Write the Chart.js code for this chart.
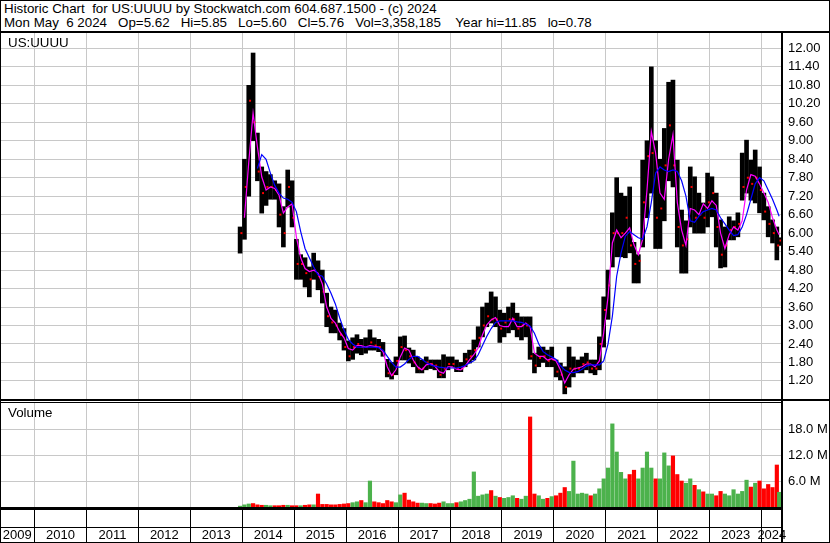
<!DOCTYPE html>
<html><head><meta charset="utf-8">
<script src="https://cdn.jsdelivr.net/npm/chart.js@4.4.1/dist/chart.umd.min.js"></script>
<style>
html,body{margin:0;padding:0;background:#fff;}
#wrap{position:relative;width:830px;height:543px;overflow:hidden;font-family:"Liberation Sans",Arial,sans-serif;background:#fff;}
.ln{position:absolute;background:#000;}
.txt{position:absolute;font-size:13.33px;white-space:pre;color:#000;line-height:15px;}
canvas{position:absolute;left:0;}
</style></head><body>
<div id="wrap">
<canvas id="cp" width="830" height="367" style="top:33px"></canvas>
<canvas id="cv" width="830" height="105" style="top:402px"></canvas>
<canvas id="cd" width="830" height="33" style="top:510px"></canvas>
<div class="txt" style="left:4px;top:1px">Historic Chart  for US:UUUU by Stockwatch.com 604.687.1500 - (c) 2024</div>
<div class="txt" style="left:4px;top:15px">Mon May  6 2024   Op=5.62   Hi=5.85   Lo=5.60   Cl=5.76   Vol=3,358,185    Year hi=11.85   lo=0.78</div>
<div class="txt" style="left:8px;top:35px">US:UUUU</div>
<div class="txt" style="left:8px;top:405px">Volume</div>
<div class="ln" style="left:0;top:0;width:830px;height:1px"></div>
<div class="ln" style="left:0;top:542px;width:830px;height:1px"></div>
<div class="ln" style="left:0;top:0;width:1px;height:543px"></div>
<div class="ln" style="left:829px;top:0;width:1px;height:543px"></div>
<div class="ln" style="left:0;top:31px;width:830px;height:2px"></div>
<div class="ln" style="left:781px;top:33px;width:2px;height:510px"></div>
<div class="ln" style="left:0;top:399px;width:830px;height:2px"></div>
<div class="ln" style="left:0;top:402px;width:782px;height:1px"></div>
<div class="ln" style="left:0;top:507px;width:782px;height:3px"></div>
</div>
<script>
// ---- data (monthly) ----
const startYear = 2013, startMonth = 12;   // first month of data
const lastDate = 2024.346;                 // Mon May 6 2024
const highs = [6.2,
 8.4,10.8,11.85,9.25,8.15,8.0,7.9,7.7,7.6,6.86,8.05,7.7,
 5.8,5.3,5.2,4.9,5.35,5.1,4.8,4.05,3.6,3.5,3.08,2.9,
 2.5,2.6,2.7,2.55,2.6,2.86,2.6,2.55,2.45,1.9,1.8,1.98,
 2.63,2.66,2.27,2.2,1.98,1.88,1.98,1.88,1.88,1.88,2.05,1.98,
 1.98,1.88,1.8,2.1,2.2,2.53,2.96,3.6,3.73,4.09,3.93,3.5,
 3.4,3.6,3.73,3.4,3.28,3.28,3.28,2.1,2.3,2.3,2.2,2.3,
 1.88,1.78,1.66,2.3,1.98,1.88,1.98,2.1,1.88,1.88,2.63,3.93,
 4.8,6.66,7.8,7.3,7.2,7.5,5.7,5.3,8.37,9.0,11.4,9.0,
 8.4,9.4,10.9,10.97,8.37,6.75,6.4,8.15,7.83,7.3,6.98,7.95,
 7.83,7.3,6.43,6.2,6.53,6.4,6.66,8.6,9.02,8.37,8.7,8.15,
 7.3,6.86,6.43,6.2,5.85];
const lows = [5.35,
 5.8,7.2,9.0,7.7,6.65,6.9,7.1,7.1,6.2,5.55,6.85,6.2,
 4.5,4.5,4.25,3.93,4.5,4.16,3.73,2.96,2.76,2.76,2.53,2.2,
 1.85,1.9,2.1,2.05,2.1,2.2,2.2,2.15,2.0,1.33,1.26,1.4,
 1.88,1.88,1.78,1.66,1.46,1.46,1.56,1.6,1.56,1.3,1.3,1.56,
 1.66,1.5,1.5,1.66,1.78,1.88,2.3,2.63,2.96,3.08,2.96,2.45,
 2.63,2.76,2.86,2.63,2.53,2.63,1.9,1.46,1.66,1.8,1.66,1.66,
 1.33,1.23,0.78,1.0,1.33,1.46,1.46,1.56,1.46,1.4,1.56,2.3,
 3.2,4.9,5.23,5.23,5.2,5.36,4.38,4.38,5.55,6.5,7.3,5.5,
 5.5,6.4,7.7,7.5,5.55,4.7,4.7,6.2,6.0,6.0,6.0,6.2,
 6.53,5.55,4.87,4.9,5.78,5.78,5.88,7.07,7.3,7.07,6.98,6.66,
 6.43,5.88,5.68,5.13,5.6];
const closes = [6.0,
 7.5,10.3,9.6,8.0,7.3,7.5,7.5,7.4,6.6,6.0,7.5,6.5,
 5.0,5.0,4.7,4.5,4.8,4.6,4.1,3.3,3.1,3.0,2.7,2.3,
 2.0,2.3,2.4,2.3,2.3,2.45,2.35,2.3,2.1,1.45,1.4,1.85,
 2.3,2.2,2.0,1.8,1.6,1.6,1.8,1.75,1.7,1.4,1.6,1.75,
 1.75,1.6,1.6,1.9,2.0,2.2,2.6,3.0,3.3,3.2,3.2,2.9,
 3.1,3.2,3.2,2.9,3.0,3.0,2.0,1.7,1.95,2.0,1.85,1.9,
 1.5,1.4,1.0,1.6,1.6,1.6,1.75,1.8,1.6,1.6,2.4,3.5,
 4.3,6.0,6.0,6.0,6.5,5.6,5.0,5.1,7.0,8.5,8.6,6.5,
 6.8,8.2,9.5,8.2,6.2,5.6,5.8,7.5,6.5,6.6,6.5,7.0,
 7.3,6.2,5.3,5.6,6.1,6.2,6.3,7.5,7.8,7.6,7.8,7.4,
 6.7,6.3,6.0,5.6,5.76];
const maShort = [null,
 6.5,8.3,9.9,8.8,7.83,7.4,7.5,7.45,7.23,6.65,6.85,6.95,
 5.88,5.2,4.85,4.75,4.8,4.7,4.35,3.6,3.23,3.08,2.8,2.6,
 2.25,2.2,2.35,2.35,2.3,2.35,2.32,2.3,2.15,1.66,1.37,1.56,
 1.98,2.27,2.2,1.88,1.66,1.56,1.72,1.75,1.68,1.5,1.45,1.66,
 1.66,1.58,1.56,1.68,1.88,2.05,2.27,2.7,3.02,3.18,3.26,3.0,
 2.96,2.96,3.23,2.96,2.96,3.08,2.96,2.1,2.0,2.0,1.88,1.92,
 1.85,1.56,1.13,1.4,1.58,1.62,1.66,1.75,1.75,1.66,1.85,2.76,
 3.93,5.68,6.1,5.85,6.0,6.17,5.62,5.3,5.8,7.4,9.3,8.6,
 7.3,7.1,8.4,9.2,7.0,6.1,5.6,6.8,6.75,6.6,6.95,6.8,
 7.05,6.9,6.0,5.5,5.95,6.2,6.1,6.4,7.4,7.9,7.85,7.6,
 7.3,7.0,6.5,6.1,5.95];
const maLong = [null,
 null,null,null,8.1,8.55,8.4,7.95,7.55,7.3,7.14,7.1,7.0,
 6.7,6.05,5.5,5.2,4.9,4.65,4.6,4.35,4.05,3.7,3.25,2.85,
 2.55,2.4,2.3,2.3,2.3,2.3,2.3,2.28,2.2,2.0,1.8,1.65,
 1.65,1.75,1.9,2.0,2.0,1.9,1.8,1.72,1.68,1.65,1.63,1.62,
 1.62,1.62,1.65,1.7,1.78,1.85,2.05,2.35,2.65,2.9,3.1,3.15,
 3.15,3.15,3.15,3.12,3.1,3.05,2.98,2.75,2.4,2.15,2.05,1.98,
 1.9,1.7,1.55,1.48,1.47,1.5,1.58,1.68,1.72,1.72,1.72,1.85,
 2.4,3.3,4.6,5.35,5.9,6.05,5.95,5.85,5.8,6.2,7.0,7.95,
 8.15,8.05,8.0,8.05,8.0,7.7,7.2,6.4,6.35,6.55,6.7,6.75,
 6.8,6.75,6.5,6.3,6.1,5.92,5.95,6.2,6.6,7.1,7.6,7.8,
 7.7,7.4,7.1,6.75,6.55];
const volumes = [0.2,
 0.5,0.7,0.8,0.5,0.4,0.4,0.3,0.3,0.3,0.4,0.4,0.3,
 0.3,0.3,0.4,0.5,0.5,3.0,0.6,0.6,0.5,0.5,0.6,0.7,
 0.8,1.0,1.2,1.5,1.0,6.0,1.2,1.0,0.8,1.5,1.2,1.0,
 2.8,3.2,1.6,1.2,0.9,0.9,0.8,0.8,0.7,0.9,1.2,0.8,
 0.8,1.0,1.2,1.5,1.8,8.1,2.5,2.8,3.0,3.8,2.5,2.2,
 2.0,2.2,2.6,2.0,1.8,2.5,20.8,3.0,2.6,1.8,2.0,2.4,
 2.6,3.2,4.5,3.6,10.6,3.0,3.2,3.0,2.6,3.0,4.2,6.5,
 9.0,19.2,12.7,8.0,6.5,7.5,8.5,6.5,9.0,12.7,9.0,6.5,
 6.5,12.5,9.5,11.8,7.5,6.0,5.5,6.5,5.0,4.0,3.5,3.0,
 3.0,2.6,3.6,3.0,2.6,4.0,3.0,3.6,6.2,4.6,5.5,6.0,
 4.2,5.2,4.5,9.7,3.4];
const priceTicks = [12.00,11.40,10.80,10.20,9.60,9.00,8.40,7.80,7.20,6.60,6.00,5.40,4.80,4.20,3.60,3.00,2.40,1.80,1.20];
const volTicks = [6,12,18];
const yearTicks = [2010,2011,2012,2013,2014,2015,2016,2017,2018,2019,2020,2021,2022,2023,2024];
const XMIN = 2009.336, XMAX = 2024.391;
const PMIN = 0.58, PMAX = 12.5, VMAX = 24.25;

// ---- derived ----
function monthX(i){
  const m = startMonth - 1 + i;
  const y = startYear + Math.floor(m / 12);
  return Math.min(y + ((m % 12) + 0.5) / 12, lastDate - 0.01);
}
const xs = highs.map((_, i) => monthX(i));
const rangePts = xs.map((x, i) => ({x, y: [lows[i], highs[i]]}));
const closePts = xs.map((x, i) => ({x: x + 0.025, y: closes[i]}));
const shortPts = xs.map((x, i) => ({x, y: maShort[i]}));
const longPts = xs.map((x, i) => ({x, y: maLong[i]}));
const volPts = xs.map((x, i) => ({x, y: volumes[i]}));
const volColors = closes.map((c, i) => (i === 0 || c >= closes[i - 1]) ? '#4cb24c' : '#ff0000');

Chart.defaults.font.family = '"Liberation Sans", Arial, sans-serif';
const common = {
  responsive: false, animation: false, events: [],
  layout: {padding: 0, autoPadding: false},
  plugins: {legend: {display: false}, tooltip: {enabled: false}}
};
const noPad = s => { s.paddingTop = 0; s.paddingBottom = 0; s.paddingLeft = 0; s.paddingRight = 0; };
const xGrid = (color) => ({
  type: 'linear', min: XMIN, max: XMAX, offset: false,
  afterBuildTicks: s => { s.ticks = yearTicks.map(v => ({value: v})); },
  grid: {color: color, drawTicks: false, offset: false},
  border: {display: false},
  ticks: {display: false},
  afterFit: s => { s.height = 0; noPad(s); }
});

new Chart(document.getElementById('cp'), {
  type: 'bar',
  data: {datasets: [
    {type: 'line', data: longPts, borderColor: '#0000ff', borderWidth: 1.2, pointRadius: 0, order: 1},
    {type: 'line', data: shortPts, borderColor: '#ff00ff', borderWidth: 1.2, pointRadius: 0, order: 2},
    {type: 'line', data: closePts, showLine: false, pointStyle: 'rect', pointRadius: 1.4, backgroundColor: '#ff0000', borderWidth: 0, order: 3},
    {type: 'bar', data: rangePts, backgroundColor: '#000', barThickness: 4, grouped: false, order: 4}
  ]},
  options: Object.assign({}, common, {
    scales: {
      x: xGrid('#c8c8c8'),
      y: {position: 'right', min: PMIN, max: PMAX,
        afterBuildTicks: s => { s.ticks = priceTicks.map(v => ({value: v})); },
        grid: {color: '#c8c8c8', drawTicks: false},
        border: {display: false},
        ticks: {padding: 6, color: '#000', font: {size: 13}, callback: v => v.toFixed(2)},
        afterFit: s => { s.width = 48; noPad(s); }}
    }
  })
});

new Chart(document.getElementById('cv'), {
  type: 'bar',
  data: {datasets: [
    {type: 'bar', data: volPts, backgroundColor: volColors, barThickness: 3.5, grouped: false}
  ]},
  options: Object.assign({}, common, {
    scales: {
      x: xGrid('#c8c8c8'),
      y: {position: 'right', min: 0, max: VMAX,
        afterBuildTicks: s => { s.ticks = volTicks.map(v => ({value: v})); },
        grid: {color: '#c8c8c8', drawTicks: false},
        border: {display: false},
        ticks: {padding: 6, color: '#000', font: {size: 13}, callback: v => v.toFixed(1) + ' M'},
        afterFit: s => { s.width = 48; noPad(s); }}
    }
  })
});

// date band: black year separators, labels centred in each visible year cell
const labelTicks = [];
for (let y = Math.floor(XMIN); y <= Math.floor(XMAX); y++) {
  const a = Math.max(y, XMIN), b = Math.min(y + 1, XMAX);
  labelTicks.push({value: (a + b) / 2, label: String(y)});
}
const allTicks = yearTicks.map(v => ({value: v, label: ''})).concat(labelTicks).sort((p, q) => p.value - q.value);
const isSep = v => Math.abs(v - Math.round(v)) < 1e-9;
new Chart(document.getElementById('cd'), {
  type: 'line',
  data: {datasets: [{data: []}]},
  options: Object.assign({}, common, {
    scales: {
      x: {type: 'linear', min: XMIN, max: XMAX, offset: false,
        afterBuildTicks: s => { s.ticks = allTicks.map(t => ({value: t.value})); },
        grid: {color: c => isSep(c.tick.value) ? '#000' : 'rgba(0,0,0,0)',
               tickColor: c => isSep(c.tick.value) ? '#000' : 'rgba(0,0,0,0)',
               drawTicks: true, tickLength: 16},
        border: {display: true, color: '#000', width: 1},
        ticks: {autoSkip: false, maxRotation: 0, padding: -15, color: '#000', font: {size: 13},
          callback: v => { const t = allTicks.find(t => Math.abs(t.value - v) < 1e-9); return t ? t.label : ''; }},
        afterFit: s => { s.height = 16; noPad(s); }},
      y: {position: 'right', min: 0, max: 1, grid: {display: false}, border: {display: false},
        ticks: {display: false}, afterFit: s => { s.width = 48; noPad(s); }}
    }
  })
});
</script>
</body></html>
